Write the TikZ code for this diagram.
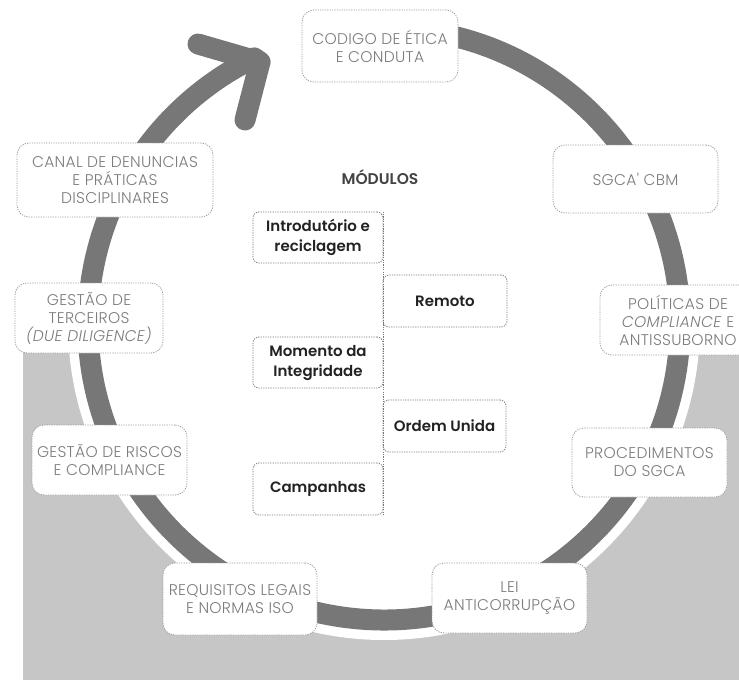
\documentclass[tikz,border=0pt]{standalone}
\usepackage{fontspec}
\IfFontExistsTF{Poppins SemiBold}{\setmainfont{Poppins}[BoldFont=* SemiBold]}{\setmainfont{Poppins}}
\IfFontExistsTF{Poppins Light}{\newfontfamily\lightfont{Poppins}[UprightFont=* Light, ItalicFont=* Light Italic, LetterSpace=2]}{\newfontfamily\lightfont{Poppins}[LetterSpace=2]}
\definecolor{ringgray}{HTML}{777777}
\definecolor{bggray}{HTML}{C6C6C6}
\definecolor{txtgray}{HTML}{7C7C7C}
\definecolor{bordergray}{HTML}{9C9C9C}
\definecolor{innerborder}{HTML}{777777}
\definecolor{innertext}{HTML}{222222}
\begin{document}
\begin{tikzpicture}[x=1pt,y=1pt,
  outerbox/.style={draw=bordergray, line width=0.8pt, dash pattern=on 1.2pt off 1.2pt,
    fill=white, rounded corners=12pt, align=center, text=txtgray, inner sep=0pt,
    font=\lightfont\fontsize{15.5}{18}\selectfont},
  innerbox/.style={draw=innerborder, line width=0.8pt, dash pattern=on 1.2pt off 1.2pt,
    fill=white, rounded corners=6pt, align=center, text=innertext, inner sep=0pt,
    minimum width=130pt, minimum height=51pt,
    font=\bfseries\fontsize{15}{20}\selectfont},
  ringline/.style={draw=ringgray, line width=21pt, line cap=round, line join=round}
]
\useasboundingbox (0,0) rectangle (739,-680);
\clip (0,0) rectangle (739,-680);
% background
\fill[bggray] (23,-352) rectangle (739,-680);
\coordinate (C) at (384,-324);
\fill[white] (C) circle[radius=316pt];
% ring with arrow
\draw[ringline] (C) ++(85:296) arc[start angle=85, end angle=-244, radius=296pt] -- (260,-62);
\coordinate (tip) at (260,-62);
\coordinate (barbA) at (198,-44);
\coordinate (barbB) at (245,-120);
\draw[ringline] (barbA) -- (tip) -- (barbB);
% outer boxes
\node[outerbox, minimum width=156pt, minimum height=72pt] (codigo) at (380,-46) {CODIGO DE ÉTICA\\E CONDUTA};
\node[outerbox, minimum width=165pt, minimum height=68pt] (sgca) at (635.5,-179) {SGCA' CBM};
\node[outerbox, minimum width=156pt, minimum height=70pt] (politicas) at (678,-320) {POLÍTICAS DE\\\textit{COMPLIANCE} E\\ANTISSUBORNO};
\node[outerbox, minimum width=155pt, minimum height=69pt] (proced) at (649.5,-462.5) {PROCEDIMENTOS\\DO SGCA};
\node[outerbox, minimum width=155pt, minimum height=70pt] (lei) at (509.5,-598) {LEI\\ANTICORRUPÇÃO};
\node[outerbox, minimum width=154pt, minimum height=72pt] (requisitos) at (240,-599) {REQUISITOS LEGAIS\\E NORMAS ISO};
\node[outerbox, minimum width=155pt, minimum height=70pt] (riscos) at (109.5,-460) {GESTÃO DE RISCOS\\E COMPLIANCE};
\node[outerbox, minimum width=148pt, minimum height=70pt] (terceiros) at (89,-318) {GESTÃO DE\\TERCEIROS\\\textit{(DUE DILIGENCE)}};
\node[outerbox, minimum width=196pt, minimum height=74pt] (canal) at (115,-180) {CANAL DE DENUNCIAS\\E PRÁTICAS\\DISCIPLINARES};
% modules
\node[text=innertext!85!white, font=\bfseries\fontsize{15.5}{18}\selectfont] (modulos) at (380,-177) {MÓDULOS};
\node[innerbox] (intro) at (318,-237.5) {Introdutório e\\reciclagem};
\node[innerbox, minimum width=124pt, minimum height=52pt] (remoto) at (445,-301) {Remoto};
\node[innerbox] (momento) at (318,-362.5) {Momento da\\Integridade};
\node[innerbox, minimum width=123pt, minimum height=52pt] (ordem) at (444.5,-426) {Ordem Unida};
\node[innerbox, minimum height=52pt] (camp) at (318,-489) {Campanhas};
\draw[innerborder, line width=0.8pt, dash pattern=on 1.2pt off 1.2pt] (intro.north east) -- (camp.south east);
\end{tikzpicture}
\end{document}
